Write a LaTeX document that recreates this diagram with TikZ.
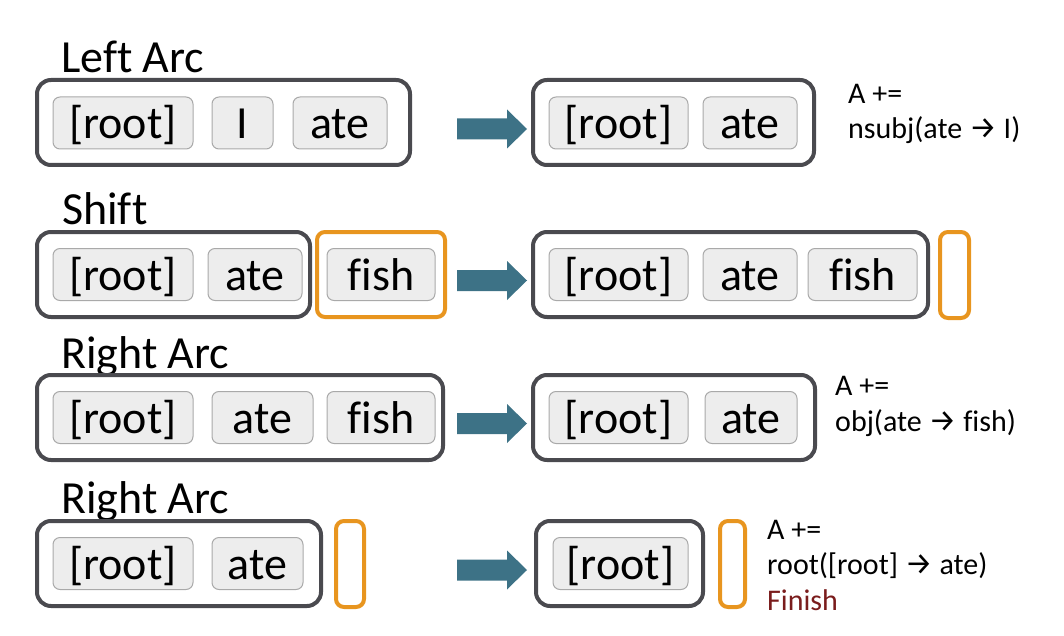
\documentclass[tikz,border=0pt]{standalone}
\usepackage{fontspec}
\setmainfont{Carlito}[Ligatures=NoCommon]
\newfontfamily\symfont{Fira Sans}
\definecolor{framegray}{HTML}{4A4A4F}
\definecolor{wordfill}{HTML}{EDEDED}
\definecolor{wordline}{HTML}{A9A9A9}
\definecolor{bufferorange}{HTML}{E8951F}
\definecolor{flowblue}{HTML}{3D7286}
\definecolor{finishred}{HTML}{7A1C1C}
\newcommand{\toarrow}{{\symfont\fontsize{31}{35}\selectfont →}}
\newcommand{\flowarrow}[1]{%
  \fill[flow] (457,#1) ++(0,-10.5) -- ++(50,0) -- ++(0,-9) -- ++(20,19.5)
    -- ++(-20,19.5) -- ++(0,-9) -- ++(-50,0) -- cycle;}
\tikzset{
  title/.style={anchor=base west, inner sep=0pt,
    font=\fontsize{46}{55}\selectfont},
  stack/.style={draw=framegray, line width=4pt, rounded corners=14pt,
    minimum height=85pt, inner sep=0pt},
  buffer/.style={draw=bufferorange, line width=4pt, rounded corners=8pt,
    inner sep=0pt},
  word/.style={draw=wordline, fill=wordfill, line width=1pt,
    rounded corners=7pt, minimum height=52pt, inner sep=0pt,
    text height=36pt, text depth=4pt,
    font=\fontsize{46}{55}\selectfont},
  flow/.style={fill=flowblue},
  note/.style={anchor=base west, inner sep=0pt, align=left,
    font=\fontsize{30}{35.5}\selectfont},
}
\begin{document}
\begin{tikzpicture}[x=1pt, y=-1pt]
\useasboundingbox (0,0) rectangle (1064,636);

% ---- Left Arc ----
\node[title] (t1) at (61,73) {Left Arc};
\node[stack, minimum width=373pt] (s1) at (223.5,122.5) {};
\node[word, minimum width=140pt] (s1a) at (123,123) {[root]};
\node[word, minimum width=61pt] (s1b) at (242.5,123) {I};
\node[word, minimum width=94pt] (s1c) at (340,123) {ate};
\flowarrow{129}
\node[stack, minimum width=281pt] (r1) at (673.5,122.5) {};
\node[word, minimum width=139pt] (r1a) at (618.5,123) {[root]};
\node[word, minimum width=94pt] (r1b) at (750,123) {ate};
% multi-line notes are anchored on the baseline of their last line
\node[note] (n1) at (848,139) {A +=\\nsubj(ate \toarrow\ I)};

% ---- Shift ----
\node[title] (t2) at (62,225) {Shift};
\node[stack, minimum width=273pt] (s2) at (173.5,274.5) {};
\node[word, minimum width=140pt] (s2a) at (123,274.5) {[root]};
\node[word, minimum width=94pt] (s2b) at (255,274.5) {ate};
\node[buffer, minimum width=128pt, minimum height=85pt] (b2) at (381,274.5) {};
\node[word, minimum width=108pt] (s2c) at (381,274.5) {fish};
\flowarrow{280.5}
\node[stack, minimum width=395pt] (r2) at (730.5,274.5) {};
\node[word, minimum width=139pt] (r2a) at (618.5,274.5) {[root]};
\node[word, minimum width=94pt] (r2b) at (750,274.5) {ate};
\node[word, minimum width=109pt] (r2c) at (862.5,274.5) {fish};
\node[buffer, minimum width=29pt, minimum height=86pt] (q2) at (954.5,275) {};

% ---- Right Arc ----
\node[title] (t3) at (61,368) {Right Arc};
\node[stack, minimum width=406pt] (s3) at (240,417.5) {};
\node[word, minimum width=140pt] (s3a) at (123,417.5) {[root]};
\node[word, minimum width=101pt] (s3b) at (262.5,417.5) {ate};
\node[word, minimum width=108pt] (s3c) at (381,417.5) {fish};
\flowarrow{423.5}
\node[stack, minimum width=282pt] (r3) at (674,417.5) {};
\node[word, minimum width=139pt] (r3a) at (618.5,417.5) {[root]};
\node[word, minimum width=92pt] (r3b) at (751,417.5) {ate};
\node[note] (n3) at (835,431) {A +=\\obj(ate \toarrow\ fish)};

% ---- Right Arc (final) ----
\node[title] (t4) at (61,513) {Right Arc};
\node[stack, minimum width=284pt] (s4) at (179,563.5) {};
\node[word, minimum width=140pt] (s4a) at (123,563.5) {[root]};
\node[word, minimum width=91pt] (s4b) at (257.5,563.5) {ate};
\node[buffer, minimum width=28pt, minimum height=86pt] (b4) at (350,564) {};
\flowarrow{570}
\node[stack, minimum width=167pt] (r4) at (619.5,563.5) {};
\node[word, minimum width=135pt] (r4a) at (620.5,563.5) {[root]};
\node[buffer, minimum width=25pt, minimum height=86pt] (q4) at (732.5,564) {};
\node[note] (n4) at (767,610) {A +=\\root([root] \toarrow\ ate)\\\textcolor{finishred}{Finish}};
\end{tikzpicture}
\end{document}
